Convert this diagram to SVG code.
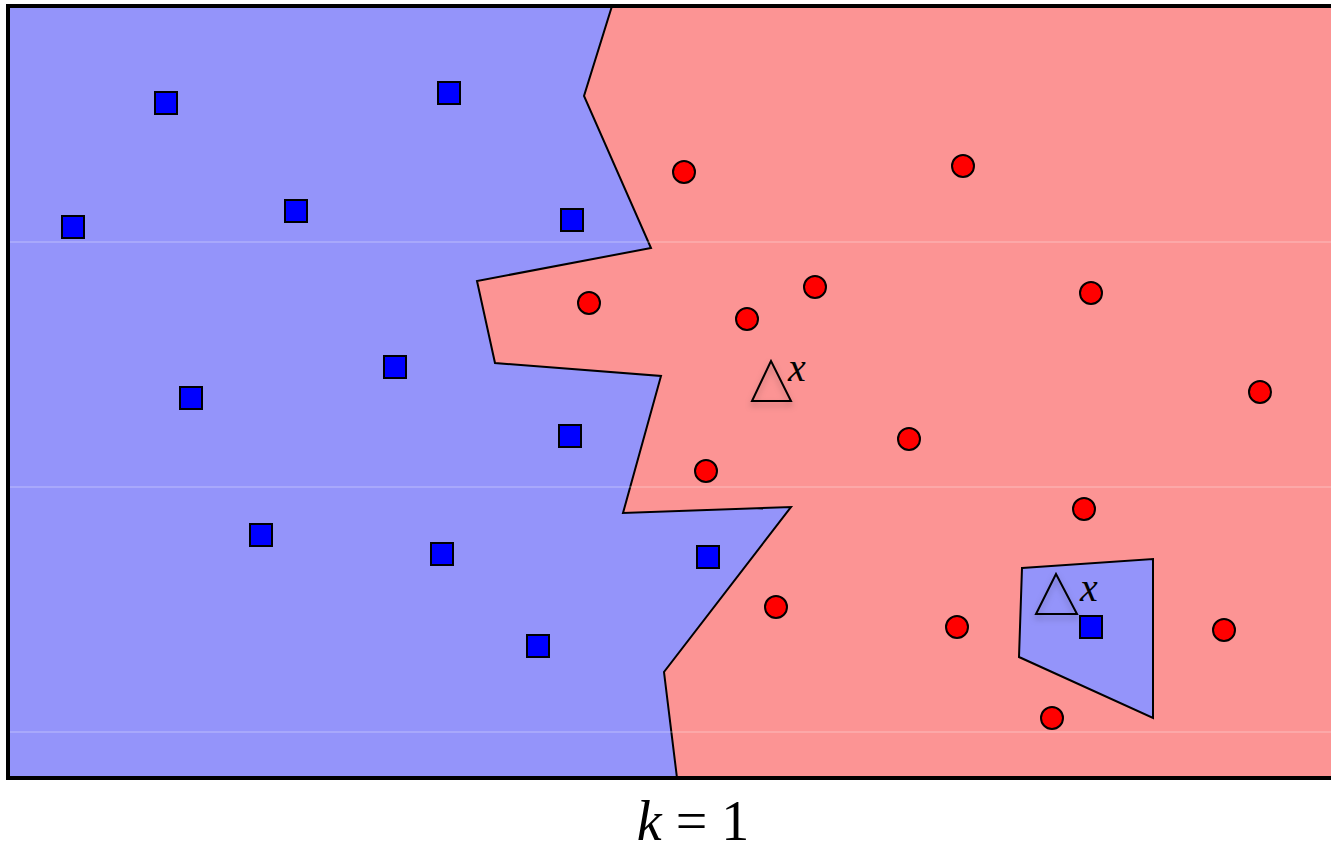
<svg xmlns="http://www.w3.org/2000/svg" width="1331" height="854" viewBox="0 0 1331 854">
<style>
.sq{fill:#0000ff;stroke:#000;stroke-width:2}
.ci{fill:#ff0000;stroke:#000;stroke-width:2}
.bd{fill:#9494fa;stroke:#000;stroke-width:2;stroke-linejoin:miter}
.tri{fill:none;stroke:#000;stroke-width:2}
.grid{stroke:#ffffff;stroke-opacity:0.25;stroke-width:1.5}
.lbl{font-family:"Liberation Serif","DejaVu Serif",serif;font-style:italic;font-size:40px;fill:#000}
.k{font-family:"Liberation Serif","DejaVu Serif",serif;font-size:56px;fill:#000}
</style>
<defs>
<filter id="sh" x="-30%" y="-30%" width="160%" height="180%">
<feDropShadow dx="0" dy="4" stdDeviation="3" flood-color="#000" flood-opacity="0.25"/>
</filter>
</defs>
<rect x="0" y="0" width="1331" height="854" fill="#fff"/>
<g id="regions">
<rect x="8" y="6" width="1330" height="772" fill="#fc9494"/>
<polygon class="bd" points="8,6 612,6 584,96 651,248 477,281 495,363 661,376 623,513 791,507 664,672 677,778 8,778"/>
<polygon class="bd" points="1022,568 1153,559 1153,718 1019,657"/>
</g>
<g id="grid">
<line class="grid" x1="8" y1="242" x2="1331" y2="242"/>
<line class="grid" x1="8" y1="487" x2="1331" y2="487"/>
<line class="grid" x1="8" y1="732" x2="1331" y2="732"/>
</g>
<rect id="frame" x="8" y="6" width="1340" height="772" fill="none" stroke="#000" stroke-width="4"/>
<g id="squares">
<rect class="sq" x="155" y="92" width="22" height="22"/>
<rect class="sq" x="438" y="82" width="22" height="22"/>
<rect class="sq" x="62" y="216" width="22" height="22"/>
<rect class="sq" x="285" y="200" width="22" height="22"/>
<rect class="sq" x="561" y="209" width="22" height="22"/>
<rect class="sq" x="384" y="356" width="22" height="22"/>
<rect class="sq" x="180" y="387" width="22" height="22"/>
<rect class="sq" x="559" y="425" width="22" height="22"/>
<rect class="sq" x="250" y="524" width="22" height="22"/>
<rect class="sq" x="431" y="543" width="22" height="22"/>
<rect class="sq" x="697" y="546" width="22" height="22"/>
<rect class="sq" x="527" y="635" width="22" height="22"/>
<rect class="sq" x="1080" y="616" width="22" height="22"/>
</g>
<g id="circles">
<circle class="ci" cx="684" cy="172" r="11"/>
<circle class="ci" cx="963" cy="166" r="11"/>
<circle class="ci" cx="589" cy="303" r="11"/>
<circle class="ci" cx="815" cy="287" r="11"/>
<circle class="ci" cx="747" cy="319" r="11"/>
<circle class="ci" cx="1091" cy="293" r="11"/>
<circle class="ci" cx="1260" cy="392" r="11"/>
<circle class="ci" cx="909" cy="439" r="11"/>
<circle class="ci" cx="706" cy="471" r="11"/>
<circle class="ci" cx="1084" cy="509" r="11"/>
<circle class="ci" cx="776" cy="607" r="11"/>
<circle class="ci" cx="957" cy="627" r="11"/>
<circle class="ci" cx="1224" cy="630" r="11"/>
<circle class="ci" cx="1052" cy="718" r="11"/>
</g>
<g id="query1">
<polygon class="tri" filter="url(#sh)" points="771,361 752,401 791,401"/>
<text class="lbl" x="788" y="381">x</text>
</g>
<g id="query2">
<polygon class="tri" filter="url(#sh)" points="1056,574 1036,614 1077,614"/>
<text class="lbl" x="1080" y="601">x</text>
</g>
<g id="caption">
<text class="k" x="693" y="840" text-anchor="middle"><tspan font-style="italic">k</tspan> = 1</text>
</g>
</svg>
